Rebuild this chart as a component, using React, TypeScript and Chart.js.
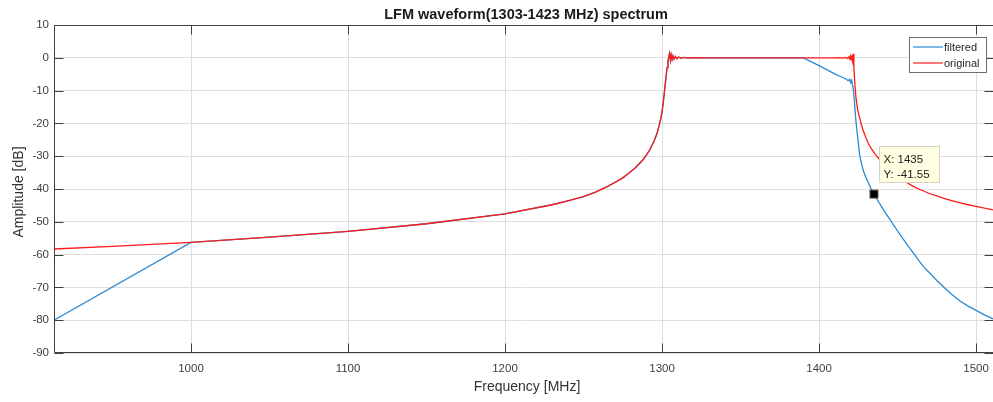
import React, { useEffect, useRef } from "react";
import { Chart, registerables } from "chart.js";

Chart.register(...registerables);

// ---- data ----
const X_MIN = 912.74;
const X_MAX = 1510.8;
const Y_MIN = -90;
const Y_MAX = 10;
const xTickValues = [1000, 1100, 1200, 1300, 1400, 1500];

const originalFreq = [
  912.7, 950, 1000, 1050, 1100, 1150, 1200, 1230, 1240, 1250, 1258, 1265, 1270, 1275, 1279, 1283, 1285.5,
  1288, 1290, 1292, 1293.5, 1295, 1296, 1297, 1298, 1299, 1299.8,
  1300.5, 1301.5, 1302.5, 1303.2, 1303.8, 1304.4, 1304.8, 1305.3, 1305.8, 1306.4, 1307, 1307.7, 1308.5,
  1309.5, 1310.5, 1312, 1314, 1317, 1320, 1330, 1350, 1380, 1400, 1410, 1413, 1415.5, 1417, 1418.2, 1419,
  1419.6, 1420.1, 1420.5, 1420.9, 1421.3, 1421.7, 1422.2, 1422.8, 1423.5, 1424.5, 1425.2, 1426, 1427, 1428,
  1430, 1431.5, 1433, 1436, 1438, 1440, 1442.5, 1445, 1450, 1455, 1460, 1465, 1470, 1475, 1480, 1485, 1490,
  1495, 1500, 1511,
];
const originalAmp = [
  -58.3, -57.5, -56.3, -54.7, -52.9, -50.6, -47.6, -44.8, -43.6, -42.3, -40.9, -39.3, -38, -36.6, -35.1, -33.5, -32.3,
  -31, -29.7, -28.2, -26.8, -25.3, -24.1, -22.7, -21, -19, -17,
  -14.8, -10.5, -6, -3, -1, 0.5, 1.3, -0.7, 0.9, -0.6, 0.6, -0.4, 0.4,
  -0.25, 0.25, -0.15, 0.12, -0.08, 0.05, 0, 0, 0, 0, 0, 0.05, -0.08, 0.12, -0.2, 0.3,
  -0.4, 0.5, -0.6, 0.8, -0.8, 1.2, -3, -8, -12, -15.5, -17.2, -18.5, -20.4, -22,
  -24.5, -26.2, -27.5, -29.5, -30.7, -31.8, -33.1, -34.2, -36.2, -37.8, -39.2, -40.3, -41.3, -42.1, -42.9, -43.6, -44.2,
  -44.8, -45.3, -46.4,
];

const filteredFreq = [
  912.7, 1000, 1050, 1100, 1150, 1200, 1230, 1240, 1250, 1258, 1265, 1270, 1275, 1279, 1283, 1285.5,
  1288, 1290, 1292, 1293.5, 1295, 1296, 1297, 1298, 1299, 1299.8,
  1300.5, 1301.5, 1302.5, 1303.2, 1303.8, 1304.4, 1304.8, 1305.3, 1305.8, 1306.4, 1307, 1307.7, 1308.5,
  1309.5, 1310.5, 1312, 1314, 1317, 1320, 1330, 1350, 1380, 1390, 1400, 1410, 1415, 1417, 1418.5, 1419.5,
  1420.2, 1420.8, 1421.3, 1421.8, 1422.5, 1423, 1423.6, 1424.8, 1425.4, 1426, 1427, 1428, 1429, 1430.4, 1431.7,
  1433, 1435, 1437, 1440, 1442.5, 1445, 1447.5, 1450, 1452.5, 1455, 1457.5, 1460, 1462, 1464.3, 1467, 1470,
  1475, 1480, 1485, 1490, 1495, 1500, 1505, 1511,
];
const filteredAmp = [
  -80, -56.3, -54.7, -52.9, -50.6, -47.6, -44.8, -43.6, -42.3, -40.9, -39.3, -38, -36.6, -35.1, -33.5, -32.3,
  -31, -29.7, -28.2, -26.8, -25.3, -24.1, -22.7, -21, -19, -17,
  -14.8, -10.5, -6, -3, -1, 0.5, 1.3, -0.7, 0.9, -0.6, 0.6, -0.4, 0.4,
  -0.25, 0.25, -0.15, 0.12, -0.08, 0.05, 0, 0, 0, 0, -2.4, -4.9, -6.0, -6.4, -7.0, -6.6,
  -7.6, -6.9, -8.3, -9.5, -12.8, -16.5, -19.8, -25, -27.7, -30, -32.2, -34, -35.5, -37, -38.4,
  -39.7, -41.55, -43.2, -45.5, -47.4, -49.2, -51, -52.8, -54.5, -56.2, -57.9, -59.5, -60.8, -62.3, -63.9, -65.4,
  -67.9, -70.2, -72.3, -74.2, -75.7, -77, -78.3, -79.6,
];

const seriesNames = ["filtered", "original"];
const seriesColors = ["#2b8ad2", "#ff1a1a"];

const DATATIP_X = 1435;
const DATATIP_Y = -41.55;

const TITLE = "LFM waveform(1303-1423 MHz) spectrum";
const X_LABEL = "Frequency [MHz]";
const Y_LABEL = "Amplitude [dB]";

const FONT = "'Liberation Sans', Arial, Helvetica, sans-serif";
const AXIS_COLOR = "#404040";

const decorations = {
  id: "matlabDecor",
  afterDraw(chart: any) {
    const ctx = chart.ctx as CanvasRenderingContext2D;
    const { left, right, top, bottom } = chart.chartArea;
    const xs = chart.scales.x;
    const ys = chart.scales.y;
    ctx.save();

    // box
    ctx.strokeStyle = AXIS_COLOR;
    ctx.lineWidth = 1;
    const L = Math.round(left) + 0.5;
    const R = Math.round(right) + 0.5;
    const T = Math.round(top) + 0.5;
    const B = Math.round(bottom) - 0.5;
    ctx.beginPath();
    ctx.moveTo(L, T);
    ctx.lineTo(R, T);
    ctx.lineTo(R, B);
    ctx.lineTo(L, B);
    ctx.closePath();
    ctx.stroke();

    // inner ticks
    const tl = 9;
    ctx.beginPath();
    xTickValues.forEach((v) => {
      const px = Math.round(xs.getPixelForValue(v)) + 0.5;
      ctx.moveTo(px, B);
      ctx.lineTo(px, B - tl);
      ctx.moveTo(px, T);
      ctx.lineTo(px, T + tl);
    });
    for (let v = Y_MIN; v <= Y_MAX; v += 10) {
      const py = Math.round(ys.getPixelForValue(v)) + 0.5;
      ctx.moveTo(L, py);
      ctx.lineTo(L + tl, py);
      ctx.moveTo(R, py);
      ctx.lineTo(R - tl, py);
    }
    ctx.stroke();

    // title
    ctx.fillStyle = "#1a1a1a";
    ctx.font = `bold 14.5px ${FONT}`;
    ctx.textAlign = "center";
    ctx.textBaseline = "alphabetic";
    ctx.fillText(TITLE, 526, 19);

    // axis labels
    ctx.fillStyle = "#333333";
    ctx.font = `14px ${FONT}`;
    ctx.fillText(X_LABEL, 527, 391);
    ctx.save();
    ctx.translate(23, (top + bottom) / 2 + 3);
    ctx.rotate(-Math.PI / 2);
    ctx.fillText(Y_LABEL, 0, 0);
    ctx.restore();

    // legend
    const lx = 909.5, ly = 37.5, lw = 77, lh = 35;
    ctx.fillStyle = "#ffffff";
    ctx.fillRect(lx, ly, lw, lh);
    ctx.strokeStyle = "#6e6e6e";
    ctx.lineWidth = 1;
    ctx.strokeRect(lx, ly, lw, lh);
    ctx.font = `11px ${FONT}`;
    ctx.textAlign = "left";
    ctx.textBaseline = "middle";
    seriesNames.forEach((n, i) => {
      const yy = 47 + i * 16;
      ctx.strokeStyle = seriesColors[i];
      ctx.lineWidth = 1.2;
      ctx.beginPath();
      ctx.moveTo(913, yy);
      ctx.lineTo(943, yy);
      ctx.stroke();
      ctx.fillStyle = "#262626";
      ctx.fillText(n, 944, yy + 0.5);
    });

    // datatip
    const dx = xs.getPixelForValue(DATATIP_X);
    const dy = ys.getPixelForValue(DATATIP_Y);
    ctx.fillStyle = "#000000";
    ctx.fillRect(dx - 4, dy - 4, 8, 8);
    ctx.strokeStyle = "#555";
    ctx.lineWidth = 1;
    ctx.strokeRect(dx - 4, dy - 4, 8, 8);
    const bx = Math.round(dx) + 5.5, by = Math.round(dy) - 47.5, bw = 60, bh = 36;
    ctx.fillStyle = "#ffffe1";
    ctx.fillRect(bx, by, bw, bh);
    ctx.strokeStyle = "#d6d6c0";
    ctx.strokeRect(bx, by, bw, bh);
    ctx.fillStyle = "#1a1a1a";
    ctx.font = `11.5px ${FONT}`;
    ctx.textBaseline = "middle";
    ctx.fillText(`X: ${DATATIP_X}`, bx + 4, by + 13);
    ctx.fillText(`Y: ${DATATIP_Y}`, bx + 4, by + 28);

    ctx.restore();
  },
};

export default function App() {
  const ref = useRef<HTMLCanvasElement | null>(null);
  useEffect(() => {
    if (!ref.current) return;
    const chart = new Chart(ref.current, {
      type: "line",
      data: {
        datasets: [
          {
            label: seriesNames[0],
            data: filteredFreq.map((f, i) => ({ x: f, y: filteredAmp[i] })),
            borderColor: seriesColors[0],
            borderWidth: 1.3,
            pointRadius: 0,
            tension: 0,
            order: 1,
          },
          {
            label: seriesNames[1],
            data: originalFreq.map((f, i) => ({ x: f, y: originalAmp[i] })),
            borderColor: seriesColors[1],
            borderWidth: 1.3,
            pointRadius: 0,
            tension: 0,
            order: 0,
          },
        ],
      },
      options: {
        responsive: false,
        animation: false,
        layout: { padding: { top: 25, left: 0, right: 0, bottom: 0 } },
        plugins: {
          legend: { display: false },
          title: { display: false },
          tooltip: { enabled: false },
        },
        scales: {
          x: {
            type: "linear",
            min: X_MIN,
            max: X_MAX,
            afterBuildTicks: (axis: any) => {
              axis.ticks = xTickValues.map((v) => ({ value: v }));
            },
            afterFit: (scale: any) => {
              scale.height = 49;
              scale.paddingLeft = 0;
              scale.paddingRight = 0;
            },
            grid: { color: "#dedede", lineWidth: 1, drawTicks: false },
            border: { display: false },
            ticks: {
              padding: 9,
              maxRotation: 0,
              color: "#404040",
              font: { family: FONT, size: 11.5 },
              callback: (v: any) => String(v),
            },
          },
          y: {
            type: "linear",
            min: Y_MIN,
            max: Y_MAX,
            afterFit: (scale: any) => {
              scale.width = 54;
              scale.paddingTop = 0;
              scale.paddingBottom = 0;
            },
            grid: { color: "#dedede", lineWidth: 1, drawTicks: false },
            border: { display: false },
            ticks: {
              stepSize: 10,
              padding: 5,
              color: "#404040",
              font: { family: FONT, size: 11.5 },
            },
          },
        },
      },
      plugins: [decorations],
    });
    return () => chart.destroy();
  }, []);
  return (
    <div style={{ position: "absolute", left: 0, top: 0, width: 993, height: 402, background: "#fff" }}>
      <canvas ref={ref} width={993} height={402} style={{ display: "block" }} />
    </div>
  );
}
